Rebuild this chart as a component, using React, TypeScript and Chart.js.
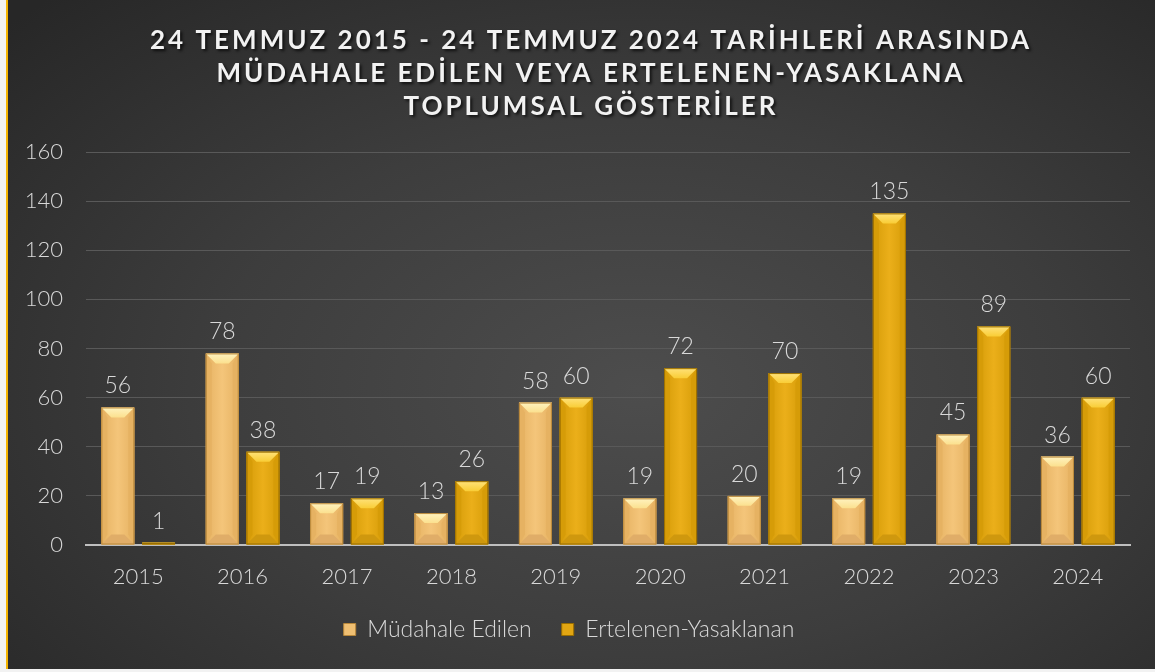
import React, { useEffect, useRef } from "react";
import { Chart, registerables } from "chart.js";

Chart.register(...registerables);

const categories = ["2015", "2016", "2017", "2018", "2019", "2020", "2021", "2022", "2023", "2024"];
const mudahaleEdilen = [56, 78, 17, 13, 58, 19, 20, 19, 45, 36];
const ertelenenYasaklanan = [1, 38, 19, 26, 60, 72, 70, 135, 89, 60];
const yTicks = [0, 20, 40, 60, 80, 100, 120, 140, 160];
const seriesNames = ["Müdahale Edilen", "Ertelenen-Yasaklanan"];
const titleLines = [
  "24 TEMMUZ 2015 - 24 TEMMUZ 2024 TARİHLERİ ARASINDA",
  "MÜDAHALE EDİLEN VEYA ERTELENEN-YASAKLANA",
  "TOPLUMSAL GÖSTERİLER",
];

const FONT = "Lato, 'Open Sans', sans-serif";
const TEXT = "#d9d9d9";

const palettes = [
  { body: "#f4c57a", side: "#e6b262", top: "#fbe08e", topMid: "#fff3c0", bottom: "#e0ad68", border: "#b8873a", legend: "#efbf72" },
  { body: "#ebaf1a", side: "#d69c08", top: "#f9cd36", topMid: "#ffe27a", bottom: "#cf980e", border: "#9a6e00", legend: "#e2a612" },
];

const bevelPlugin = {
  id: "bevelBars",
  afterDatasetsDraw(chart: any) {
    const ctx = chart.ctx as CanvasRenderingContext2D;
    chart.data.datasets.forEach((_ds: any, di: number) => {
      const meta = chart.getDatasetMeta(di);
      const pal = palettes[di];
      meta.data.forEach((bar: any) => {
        const p = bar.getProps(["x", "y", "base", "width"], true);
        const l = p.x - p.width / 2;
        const r = p.x + p.width / 2;
        const t = Math.min(p.y, p.base);
        const b = Math.max(p.y, p.base);
        const w = r - l;
        const h = b - t;
        if (h <= 0) return;
        const bv = Math.min(10, w / 3.3, h / 2);
        ctx.save();
        const g = ctx.createLinearGradient(l, 0, r, 0);
        g.addColorStop(0, pal.side);
        g.addColorStop(0.5, pal.body);
        g.addColorStop(1, pal.side);
        ctx.fillStyle = g;
        ctx.fillRect(l, t, w, h);
        const poly = (pts: number[], color: any) => {
          ctx.beginPath();
          ctx.moveTo(pts[0], pts[1]);
          for (let i = 2; i < pts.length; i += 2) ctx.lineTo(pts[i], pts[i + 1]);
          ctx.closePath();
          ctx.fillStyle = color;
          ctx.fill();
        };
        poly([l, b, r, b, r - bv, b - bv, l + bv, b - bv], pal.bottom);
        poly([l, t, l + bv * 0.6, t + bv, l + bv * 0.6, b - bv, l, b], pal.side);
        poly([r, t, r - bv * 0.6, t + bv, r - bv * 0.6, b - bv, r, b], pal.side);
        const tg = ctx.createLinearGradient(0, t, 0, t + bv);
        tg.addColorStop(0, pal.topMid);
        tg.addColorStop(1, pal.top);
        poly([l, t, r, t, r - bv, t + bv, l + bv, t + bv], tg);
        ctx.strokeStyle = pal.border;
        ctx.lineWidth = 1;
        ctx.strokeRect(l + 0.5, t + 0.5, w - 1, h - 1);
        ctx.restore();
      });
    });
  },
};

const valueLabelPlugin = {
  id: "valueLabels",
  afterDatasetsDraw(chart: any) {
    const ctx = chart.ctx as CanvasRenderingContext2D;
    ctx.save();
    ctx.font = `300 23px ${FONT}`;
    ctx.fillStyle = TEXT;
    ctx.textAlign = "center";
    ctx.textBaseline = "alphabetic";
    chart.data.datasets.forEach((ds: any, di: number) => {
      const meta = chart.getDatasetMeta(di);
      meta.data.forEach((bar: any, i: number) => {
        ctx.fillText(String(ds.data[i]), bar.x, bar.y - 14);
      });
    });
    ctx.restore();
  },
};

const titlePlugin = {
  id: "spacedTitle",
  afterDraw(chart: any) {
    const ctx = chart.ctx as any;
    ctx.save();
    ctx.font = `bold 26px ${FONT}`;
    ctx.letterSpacing = "3px";
    ctx.fillStyle = "#f2f2f2";
    ctx.textAlign = "center";
    ctx.textBaseline = "alphabetic";
    ctx.shadowColor = "rgba(0,0,0,0.7)";
    ctx.shadowOffsetX = 2;
    ctx.shadowOffsetY = 2;
    ctx.shadowBlur = 3;
    const baselines = [49, 82, 115];
    titleLines.forEach((line, i) => ctx.fillText(line, 583, baselines[i]));
    ctx.restore();
  },
};

export default function App() {
  const canvasRef = useRef<HTMLCanvasElement | null>(null);

  useEffect(() => {
    document.body.style.margin = "0";
    document.body.style.background = "#f2f2f2";
    const canvas = canvasRef.current;
    if (!canvas) return;
    const chart = new Chart(canvas, {
      type: "bar",
      data: {
        labels: categories,
        datasets: [
          {
            label: seriesNames[0],
            data: mudahaleEdilen,
            backgroundColor: palettes[0].legend,
            borderColor: palettes[0].border,
            borderWidth: 1,
            barPercentage: 0.81,
            categoryPercentage: 0.78,
          },
          {
            label: seriesNames[1],
            data: ertelenenYasaklanan,
            backgroundColor: palettes[1].legend,
            borderColor: palettes[1].border,
            borderWidth: 1,
            barPercentage: 0.81,
            categoryPercentage: 0.78,
          },
        ],
      },
      options: {
        animation: false,
        responsive: false,
        maintainAspectRatio: false,
        layout: { padding: { top: 152, right: 25, bottom: 18, left: 0 } },
        plugins: {
          title: { display: false },
          tooltip: { enabled: false },
          legend: {
            position: "bottom",
            labels: {
              boxWidth: 12,
              boxHeight: 12,
              padding: 30,
              color: TEXT,
              font: { size: 23, family: FONT, weight: 300 as any },
            },
          },
        },
        scales: {
          x: {
            grid: { display: false, drawTicks: false },
            border: { display: true, color: "#bfbfbf", width: 2 },
            ticks: { color: TEXT, padding: 19, font: { size: 22, family: FONT, weight: 300 as any } },
            afterFit: (s: any) => {
              s.height = 43;
            },
          },
          y: {
            min: 0,
            max: 160,
            afterBuildTicks: (s: any) => {
              s.ticks = yTicks.map((v) => ({ value: v }));
            },
            grid: {
              drawTicks: false,
              color: (c: any) => (c.tick && c.tick.value === 0 ? "rgba(0,0,0,0)" : "#595959"),
              lineWidth: 1,
            },
            border: { display: false },
            ticks: { color: TEXT, padding: 23, font: { size: 22, family: FONT, weight: 300 as any } },
            afterFit: (s: any) => {
              s.width = 78;
            },
          },
        },
      },
      plugins: [bevelPlugin, valueLabelPlugin, titlePlugin],
    });
    return () => chart.destroy();
  }, []);

  return (
    <div
      style={{
        marginLeft: 6,
        borderLeft: "2px solid #f5b400",
        width: 1147,
        height: 669,
        background:
          "radial-gradient(ellipse 75% 80% at 55% 58%, #4d4d4d 0%, #3d3d3d 50%, #272727 100%)",
      }}
    >
      <canvas ref={canvasRef} width={1147} height={669} style={{ display: "block", width: 1147, height: 669 }} />
    </div>
  );
}
